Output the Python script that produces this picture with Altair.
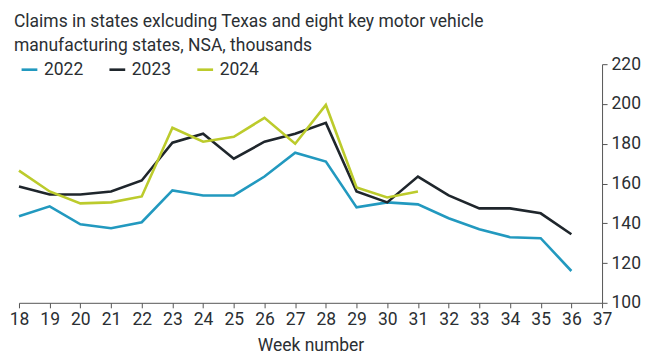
import altair as alt
import pandas as pd

weeks = list(range(18, 37))
y2022 = [143.5, 148.5, 139.5, 137.5, 140.5, 156.5, 154, 154, 163.5, 175.5, 171, 148, 150.5, 149.5, 142.5, 137, 133, 132.5, 116]
y2023 = [158.5, 154.5, 154.5, 156, 161.5, 180.5, 185, 172.5, 181, 185, 190.5, 156, 150.5, 163.5, 154, 147.5, 147.5, 145, 134.5]
weeks2024 = list(range(18, 32))
y2024 = [166.5, 156, 150, 150.5, 153.5, 188, 181, 183.5, 193, 180, 199.5, 158, 153, 156]

rows = []
for w, v in zip(weeks, y2022):
    rows.append({"week": w, "value": v, "year": "2022"})
for w, v in zip(weeks, y2023):
    rows.append({"week": w, "value": v, "year": "2023"})
for w, v in zip(weeks2024, y2024):
    rows.append({"week": w, "value": v, "year": "2024"})
df = pd.DataFrame(rows)

FONT = "Roboto"
TXT = "#2b2f33"

chart = alt.Chart(df).mark_line(strokeWidth=2.6).encode(
    x=alt.X("week:Q", title="Week number",
            scale=alt.Scale(domain=[18, 37], nice=False, zero=False),
            axis=alt.Axis(values=list(range(18, 38)), format="d", labelFontSize=17.5,
                          titleFontSize=17.5, titleFontWeight="normal", labelColor=TXT,
                          titleColor=TXT, domainColor="#555", tickColor="#555",
                          tickSize=5, labelPadding=3, titlePadding=8, grid=False,
                          labelFlush=False, labelFont=FONT, titleFont=FONT)),
    y=alt.Y("value:Q", title=None,
            scale=alt.Scale(domain=[100, 220], nice=False, zero=False),
            axis=alt.Axis(orient="right", values=[100, 120, 140, 160, 180, 200, 220],
                          labelFontSize=17.5, labelColor=TXT, domainColor="#555",
                          tickColor="#555", tickSize=5, labelPadding=4, grid=False,
                          labelFlush=False, labelFont=FONT)),
    color=alt.Color("year:N", title=None,
                    scale=alt.Scale(domain=["2022", "2023", "2024"],
                                    range=["#2299bf", "#1f262c", "#bccb2c"]),
                    legend=alt.Legend(orient="none", legendX=1, legendY=-4, direction="horizontal",
                                      symbolType="stroke", symbolStrokeWidth=2.6, symbolSize=250,
                                      labelFontSize=17.5, labelColor=TXT, labelFont=FONT,
                                      columnPadding=20, symbolOffset=0, labelOffset=5)),
).properties(
    width=584, height=239,
    title=alt.TitleParams(
        ["Claims in states exlcuding Texas and eight key motor vehicle",
         "manufacturing states, NSA, thousands"],
        anchor="start", frame="group", fontSize=17.5, fontWeight="normal", color=TXT, font=FONT,
        lineHeight=24, dx=-5, offset=1),
    autosize=alt.AutoSizeParams(type="none"),
    padding={"left": 11, "top": 56, "right": 40, "bottom": 52},
).configure_view(stroke=None)

chart.save("out.html", embed_options={"renderer": "svg", "actions": False})
